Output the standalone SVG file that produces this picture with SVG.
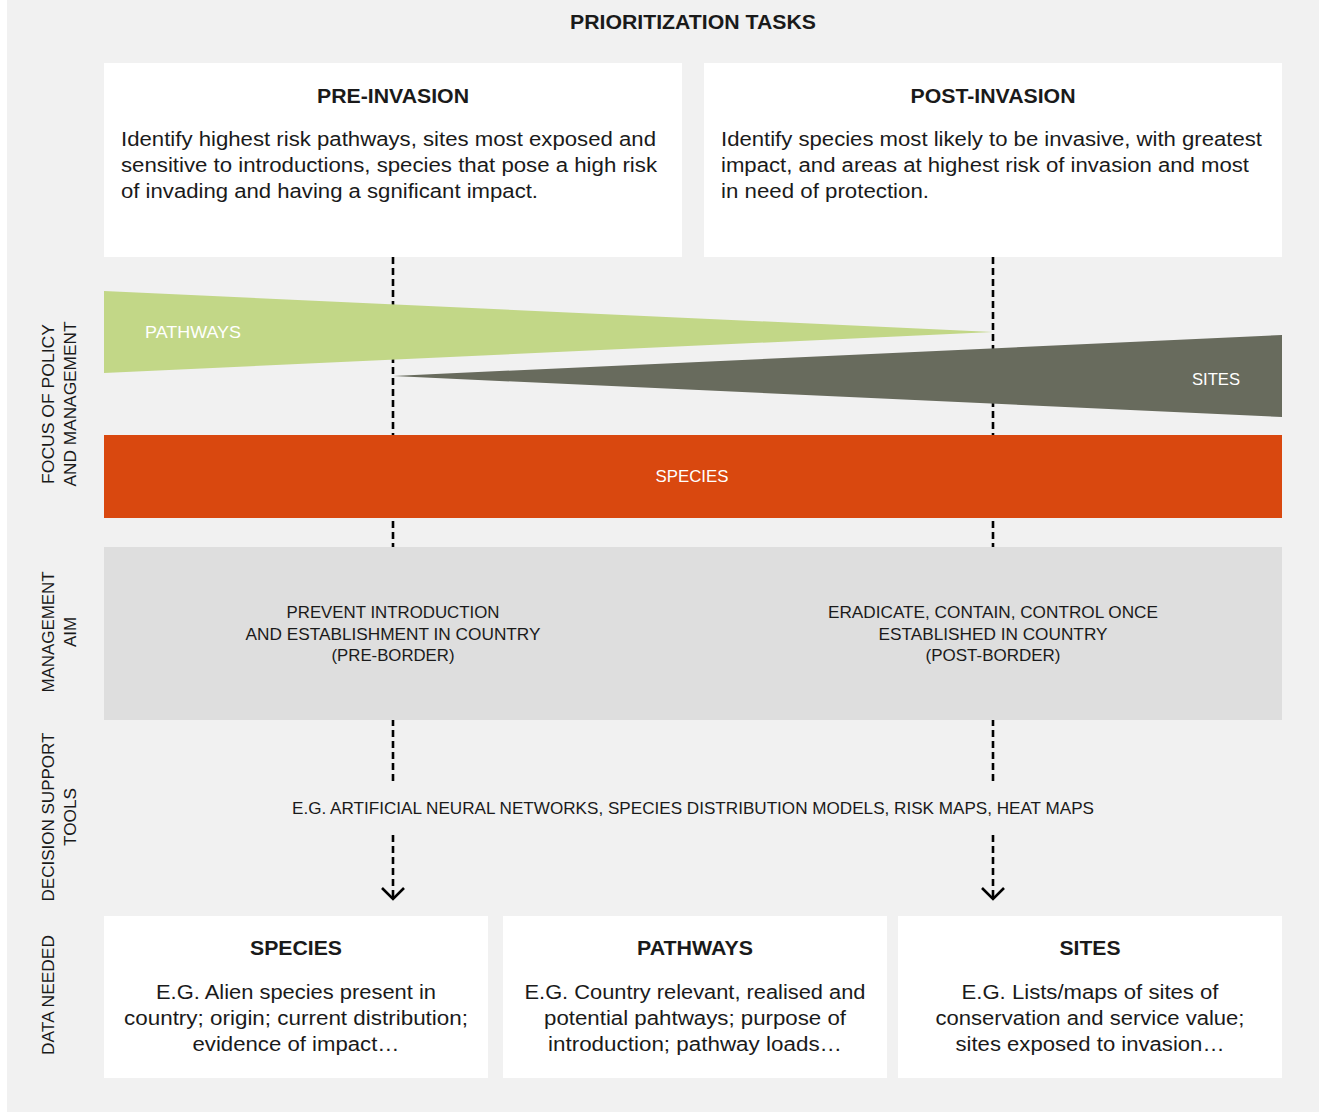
<svg xmlns="http://www.w3.org/2000/svg" width="1319" height="1112" viewBox="0 0 1319 1112">
<style>
text{font-family:"Liberation Sans",Arial,sans-serif;fill:#1a1a1a}
.h{font-size:20px;font-weight:bold;text-anchor:middle}
.b{font-size:20px}
.c{font-size:20px;text-anchor:middle}
.m{font-size:17px;text-anchor:middle}
.s{font-size:16px;text-anchor:middle}
.w{fill:#ffffff;font-size:17px}
.box{fill:#ffffff}
.dash{stroke:#000;stroke-width:2.6;stroke-dasharray:7 4;fill:none}
.arr{stroke:#000;stroke-width:2.6;fill:none}
</style>
<rect x="0" y="0" width="1319" height="1112" fill="#ffffff"/>
<rect x="7" y="0" width="1312" height="1112" fill="#f1f1f1"/>
<text x="693" y="29" class="h" textLength="246" lengthAdjust="spacingAndGlyphs">PRIORITIZATION TASKS</text>

<g id="connectors">
<line class="dash" x1="393" y1="257" x2="393" y2="782"/>
<line class="dash" x1="393" y1="835" x2="393" y2="897"/>
<polyline class="arr" points="382,888 393,899 404,888"/>
<line class="dash" x1="993" y1="257" x2="993" y2="782"/>
<line class="dash" x1="993" y1="835" x2="993" y2="897"/>
<polyline class="arr" points="982,888 993,899 1004,888"/>
</g>

<g id="pre-invasion">
<rect class="box" x="104" y="63" width="578" height="194"/>
<text x="393" y="103" class="h" textLength="152" lengthAdjust="spacingAndGlyphs">PRE-INVASION</text>
<text x="121" y="146" class="b" textLength="535" lengthAdjust="spacingAndGlyphs">Identify highest risk pathways, sites most exposed and</text>
<text x="121" y="172" class="b" textLength="536" lengthAdjust="spacingAndGlyphs">sensitive to introductions, species that pose a high risk</text>
<text x="121" y="198" class="b" textLength="417" lengthAdjust="spacingAndGlyphs">of invading and having a sgnificant impact.</text>
</g>
<g id="post-invasion">
<rect class="box" x="704" y="63" width="578" height="194"/>
<text x="993" y="103" class="h" textLength="165" lengthAdjust="spacingAndGlyphs">POST-INVASION</text>
<text x="721" y="146" class="b" textLength="541" lengthAdjust="spacingAndGlyphs">Identify species most likely to be invasive, with greatest</text>
<text x="721" y="172" class="b" textLength="528" lengthAdjust="spacingAndGlyphs">impact, and areas at highest risk of invasion and most</text>
<text x="721" y="198" class="b" textLength="208" lengthAdjust="spacingAndGlyphs">in need of protection.</text>
</g>

<g id="pathways-band">
<polygon points="104,291 993,332 104,373" fill="#c2d787"/>
<text x="145" y="338" class="w" textLength="96" lengthAdjust="spacingAndGlyphs">PATHWAYS</text>
</g>
<g id="sites-band">
<polygon points="393,376 1282,335 1282,417" fill="#686b5d"/>
<text x="1192" y="385" class="w" textLength="48" lengthAdjust="spacingAndGlyphs">SITES</text>
</g>
<g id="species-band">
<rect x="104" y="435" width="1178" height="83" fill="#d9480f"/>
<text x="692" y="482" class="w" style="text-anchor:middle" textLength="73" lengthAdjust="spacingAndGlyphs">SPECIES</text>
</g>

<g id="management-aim">
<rect x="104" y="547" width="1178" height="173" fill="#dedede"/>
<text x="393" y="618" class="m" textLength="213" lengthAdjust="spacingAndGlyphs">PREVENT INTRODUCTION</text>
<text x="393" y="640" class="m" textLength="295" lengthAdjust="spacingAndGlyphs">AND ESTABLISHMENT IN COUNTRY</text>
<text x="393" y="661" class="m" textLength="123" lengthAdjust="spacingAndGlyphs">(PRE-BORDER)</text>
<text x="993" y="618" class="m" textLength="330" lengthAdjust="spacingAndGlyphs">ERADICATE, CONTAIN, CONTROL ONCE</text>
<text x="993" y="640" class="m" textLength="229" lengthAdjust="spacingAndGlyphs">ESTABLISHED IN COUNTRY</text>
<text x="993" y="661" class="m" textLength="135" lengthAdjust="spacingAndGlyphs">(POST-BORDER)</text>
</g>

<g id="decision-support">
<text x="693" y="814" class="m" textLength="802" lengthAdjust="spacingAndGlyphs">E.G. ARTIFICIAL NEURAL NETWORKS, SPECIES DISTRIBUTION MODELS, RISK MAPS, HEAT MAPS</text>
</g>

<g id="data-species">
<rect class="box" x="104" y="916" width="384" height="162"/>
<text x="296" y="955" class="h" textLength="92" lengthAdjust="spacingAndGlyphs">SPECIES</text>
<text x="296" y="999" class="c" textLength="280" lengthAdjust="spacingAndGlyphs">E.G. Alien species present in</text>
<text x="296" y="1025" class="c" textLength="344" lengthAdjust="spacingAndGlyphs">country; origin; current distribution;</text>
<text x="296" y="1051" class="c" textLength="207" lengthAdjust="spacingAndGlyphs">evidence of impact…</text>
</g>
<g id="data-pathways">
<rect class="box" x="503" y="916" width="384" height="162"/>
<text x="695" y="955" class="h" textLength="116" lengthAdjust="spacingAndGlyphs">PATHWAYS</text>
<text x="695" y="999" class="c" textLength="341" lengthAdjust="spacingAndGlyphs">E.G. Country relevant, realised and</text>
<text x="695" y="1025" class="c" textLength="302" lengthAdjust="spacingAndGlyphs">potential pahtways; purpose of</text>
<text x="695" y="1051" class="c" textLength="294" lengthAdjust="spacingAndGlyphs">introduction; pathway loads…</text>
</g>
<g id="data-sites">
<rect class="box" x="898" y="916" width="384" height="162"/>
<text x="1090" y="955" class="h" textLength="61" lengthAdjust="spacingAndGlyphs">SITES</text>
<text x="1090" y="999" class="c" textLength="257" lengthAdjust="spacingAndGlyphs">E.G. Lists/maps of sites of</text>
<text x="1090" y="1025" class="c" textLength="309" lengthAdjust="spacingAndGlyphs">conservation and service value;</text>
<text x="1090" y="1051" class="c" textLength="269" lengthAdjust="spacingAndGlyphs">sites exposed to invasion…</text>
</g>

<g id="row-labels">
<text class="s" transform="translate(54,404) rotate(-90)" textLength="160" lengthAdjust="spacingAndGlyphs">FOCUS OF POLICY</text>
<text class="s" transform="translate(76,404) rotate(-90)" textLength="165" lengthAdjust="spacingAndGlyphs">AND MANAGEMENT</text>
<text class="s" transform="translate(54,632) rotate(-90)" textLength="121" lengthAdjust="spacingAndGlyphs">MANAGEMENT</text>
<text class="s" transform="translate(76,632) rotate(-90)" textLength="30" lengthAdjust="spacingAndGlyphs">AIM</text>
<text class="s" transform="translate(54,817) rotate(-90)" textLength="169" lengthAdjust="spacingAndGlyphs">DECISION SUPPORT</text>
<text class="s" transform="translate(76,817) rotate(-90)" textLength="58" lengthAdjust="spacingAndGlyphs">TOOLS</text>
<text class="s" transform="translate(54,995) rotate(-90)" textLength="120" lengthAdjust="spacingAndGlyphs">DATA NEEDED</text>
</g>
</svg>
